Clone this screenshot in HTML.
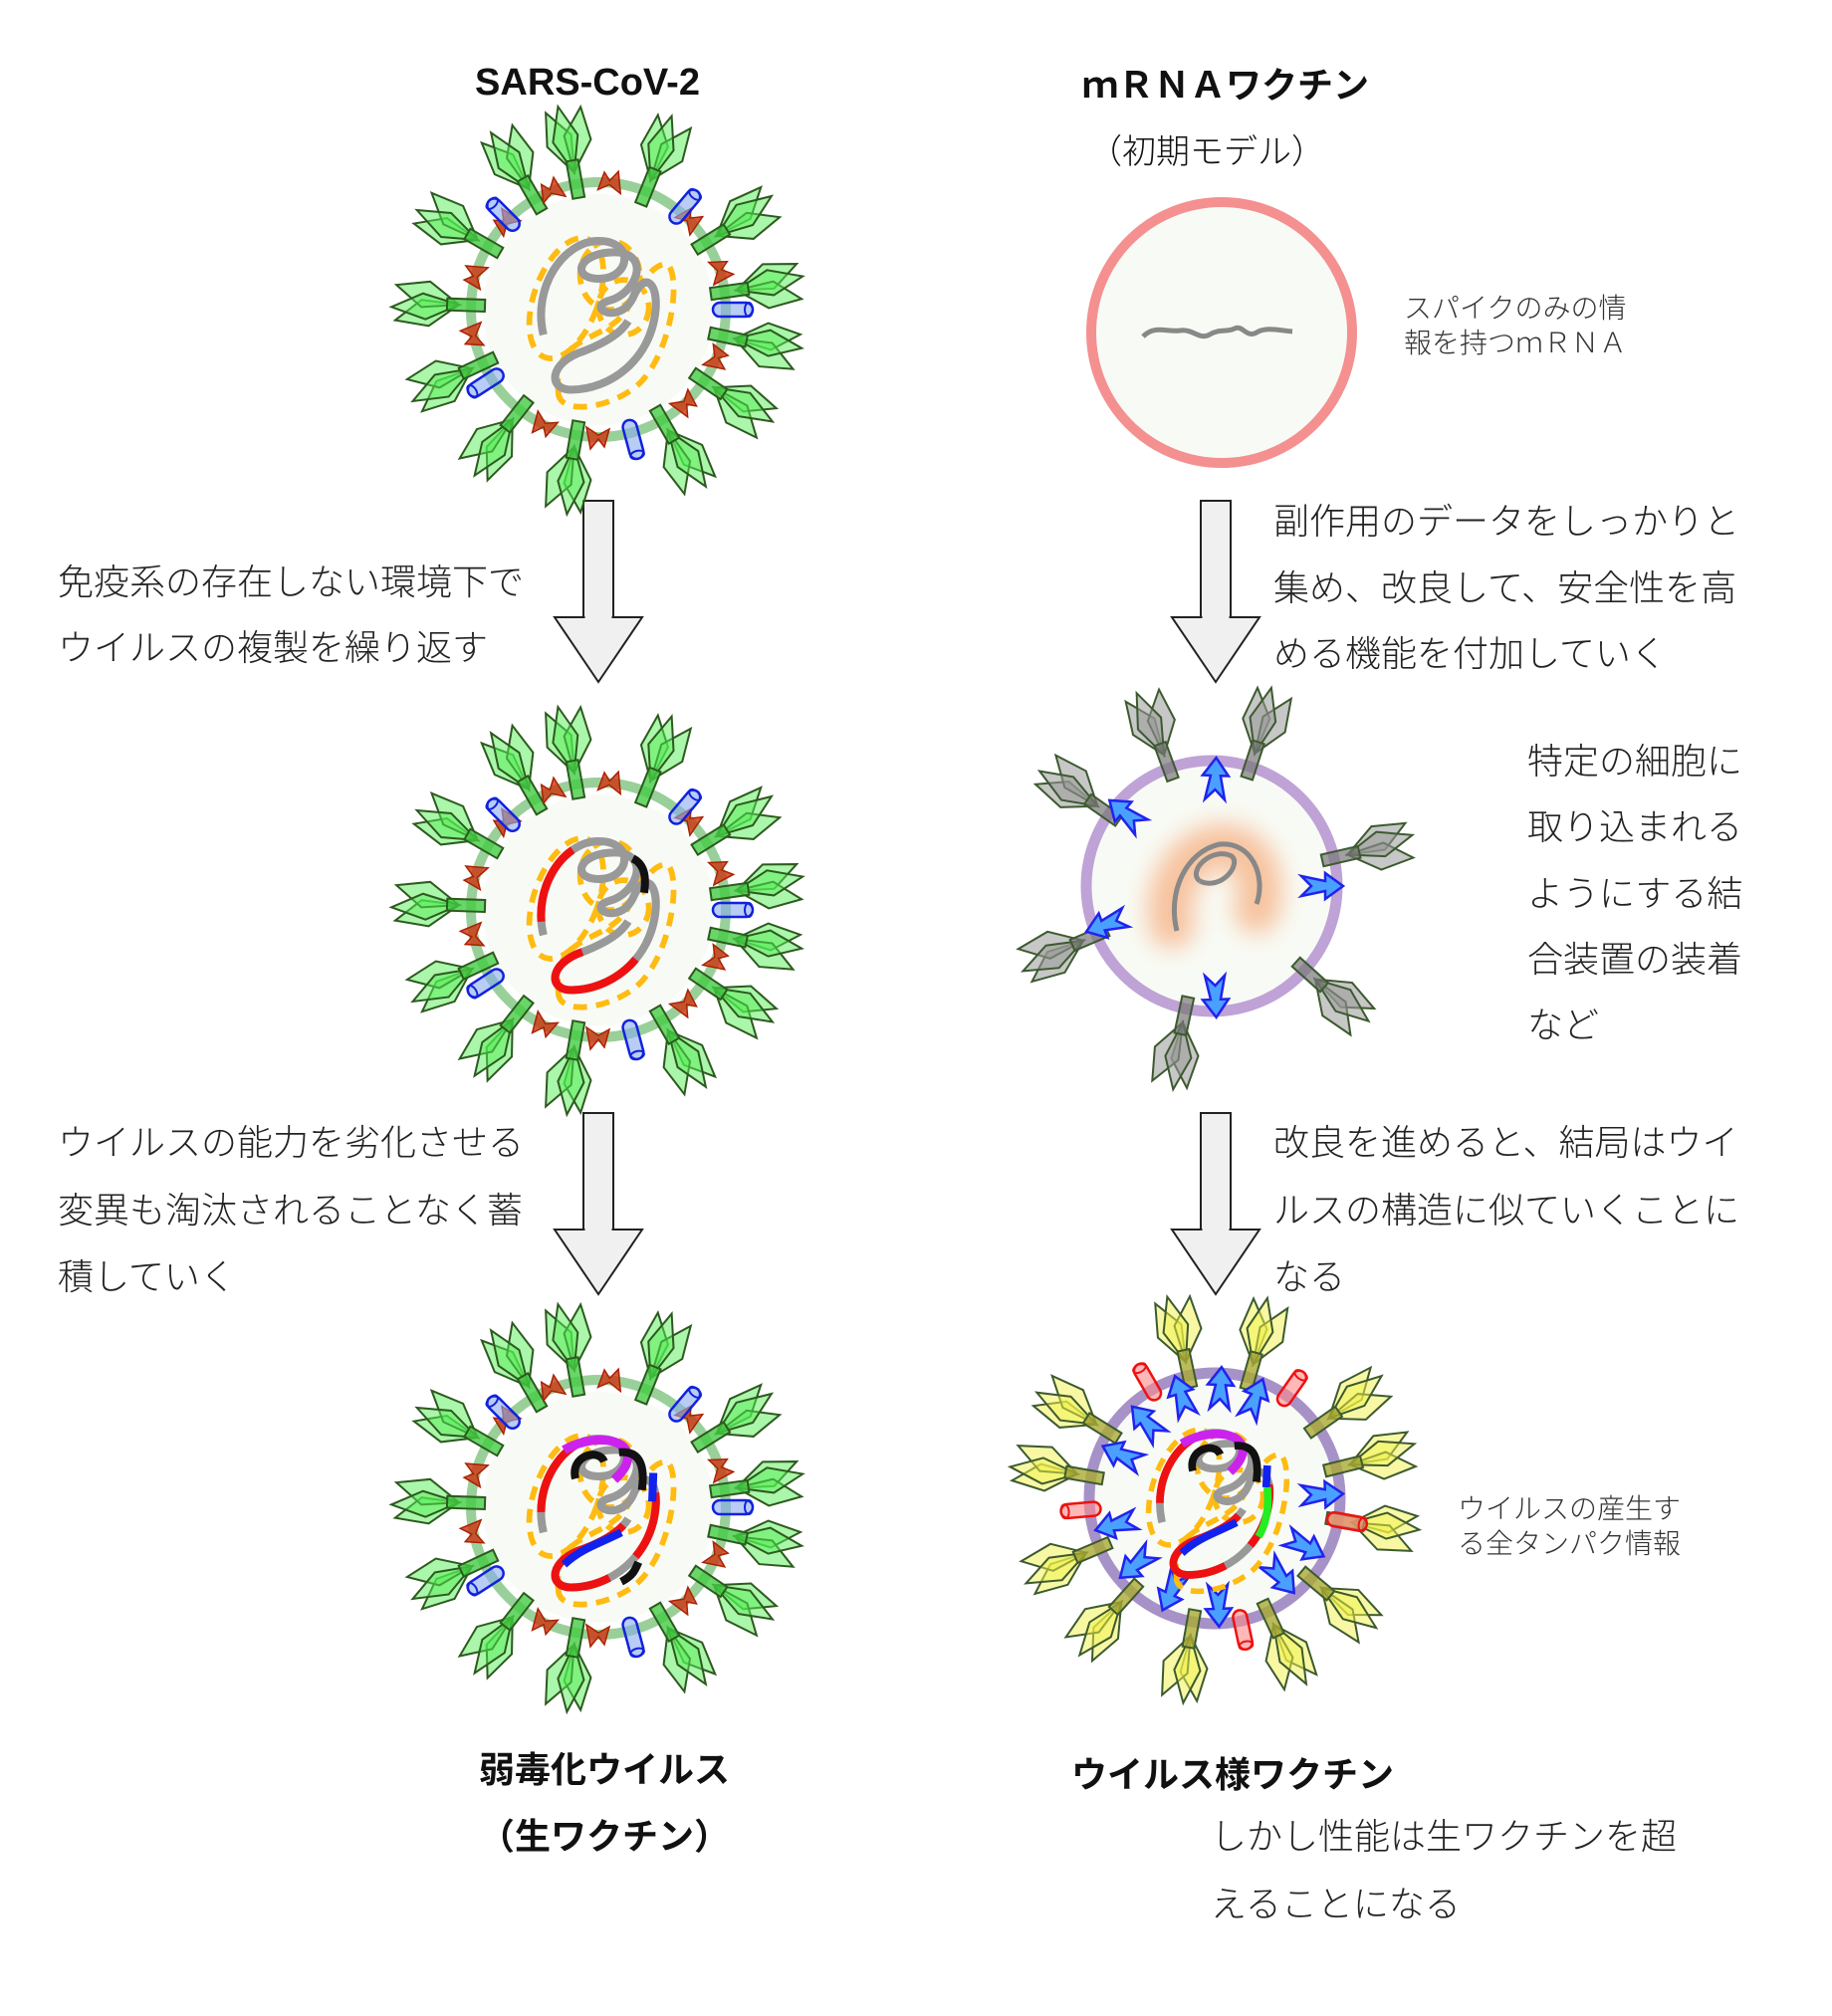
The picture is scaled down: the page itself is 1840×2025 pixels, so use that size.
<!DOCTYPE html>
<html><head><meta charset="utf-8"><style>
html,body{margin:0;padding:0;background:#fff;}
body{width:1840px;height:2025px;position:relative;overflow:hidden;font-family:"Liberation Sans","Noto Sans CJK JP",sans-serif;}
.t{position:absolute;font-size:36px;color:#222;white-space:nowrap;font-weight:300;line-height:1;}
.s{position:absolute;font-size:28px;color:#333;white-space:nowrap;font-weight:300;line-height:1;}
.b{position:absolute;font-size:36px;font-weight:bold;color:#111;white-space:nowrap;line-height:1;transform:translateX(-50%);}
svg{position:absolute;left:0;top:0;}
</style></head><body>
<svg width="1840" height="2025" viewBox="0 0 1840 2025">
<defs>
<filter id="blur" x="-100%" y="-100%" width="300%" height="300%"><feGaussianBlur stdDeviation="12"/></filter>
<g id="kites">
 <polygon points="0,-8 -15,-42 -3,-74 12,-44" transform="rotate(-13 0 -8)"/>
 <polygon points="0,-8 -12,-44 3,-74 15,-42" transform="rotate(13 0 -8)"/>
 <polygon points="0,-8 -14,-42 -1,-76 12,-44" transform="rotate(-3 0 -8)"/>
</g>
<g id="spG">
 <g fill="#55ee55" fill-opacity="0.5" stroke="#2d5a1f" stroke-width="2" transform="translate(0,-14)"><use href="#kites"/></g>
 <rect x="-6" y="-34" width="12" height="38" fill="#44cc44" fill-opacity="0.8" stroke="#2d5a1f" stroke-width="2"/>
</g>
<g id="spGr">
 <g fill="#999" fill-opacity="0.55" stroke="#3d5a2f" stroke-width="2" transform="translate(0,-14)"><use href="#kites"/></g>
 <rect x="-6" y="-34" width="12" height="38" fill="#777" fill-opacity="0.7" stroke="#3d5a2f" stroke-width="2"/>
</g>
<g id="spY">
 <g fill="#f2f24a" fill-opacity="0.5" stroke="#3d5a2f" stroke-width="2" transform="translate(0,-14)"><use href="#kites"/></g>
 <rect x="-6" y="-34" width="12" height="38" fill="#aaaa33" fill-opacity="0.8" stroke="#3d5a2f" stroke-width="2"/>
</g>
<polygon id="mtri" points="-11,6 -6,-12 0,-4 8,-14 12,8 0,0" fill="#cc3311" fill-opacity="0.8" stroke="#aa2200" stroke-width="1.5"/>
<g id="cylB"><rect x="-7" y="-20" width="14" height="40" rx="7" fill="#88aaee" fill-opacity="0.6" stroke="#1122dd" stroke-width="2.5"/><ellipse cx="0" cy="-16" rx="7" ry="4" fill="none" stroke="#1122dd" stroke-width="2"/></g>
<g id="cylR"><rect x="-7" y="-20" width="14" height="40" rx="7" fill="#ff8888" fill-opacity="0.6" stroke="#ee1111" stroke-width="2.5"/><ellipse cx="0" cy="-16" rx="7" ry="4" fill="none" stroke="#ee1111" stroke-width="2"/></g>
<polygon id="barr" points="0,-24 13,-6 5,-6 10,18 0,8 -10,18 -5,-6 -13,-6" fill="#4aa0ff" stroke="#2222ee" stroke-width="2.5"/>
<path id="gen" d="M -48,22 C -58,-20 -30,-60 0,-60 C 32,-60 28,-28 2,-27 C -26,-26 -18,-52 18,-50 C 46,-46 32,-14 10,-8 C -12,-2 18,14 30,-10 C 40,-34 52,-24 50,0 C 46,44 10,70 -24,70 C -44,70 -44,46 -12,36 C 8,28 20,20 26,10" fill="none"/>
<g id="gdash" fill="none" stroke="#ffbb11" stroke-width="5" stroke-dasharray="12 8">
 <ellipse cx="-28" cy="-10" rx="28" ry="55" transform="rotate(20 -28 -10)"/>
 <ellipse cx="10" cy="-30" rx="26" ry="30"/>
 <ellipse cx="22" cy="-2" rx="22" ry="24"/>
 <path d="M -35,72 C -40,20 5,30 25,0 C 40,-30 50,-40 60,-40 C 72,-30 65,30 40,60 C 20,85 -35,95 -35,72 Z"/>
</g>
<g id="virus">
 <circle r="116" fill="#f8fbf5"/>
 <circle r="128" fill="none" stroke="#7fc47f" stroke-opacity="0.8" stroke-width="10"/>
 <g transform="rotate(-10)"><use href="#spG" transform="translate(0,-118)"/></g>
 <g transform="rotate(22)"><use href="#spG" transform="translate(0,-118)"/></g>
 <g transform="rotate(58)"><use href="#spG" transform="translate(0,-118)"/></g>
 <g transform="rotate(82)"><use href="#spG" transform="translate(0,-118)"/></g>
 <g transform="rotate(102)"><use href="#spG" transform="translate(0,-118)"/></g>
 <g transform="rotate(124)"><use href="#spG" transform="translate(0,-118)"/></g>
 <g transform="rotate(150)"><use href="#spG" transform="translate(0,-118)"/></g>
 <g transform="rotate(190)"><use href="#spG" transform="translate(0,-118)"/></g>
 <g transform="rotate(218)"><use href="#spG" transform="translate(0,-118)"/></g>
 <g transform="rotate(245)"><use href="#spG" transform="translate(0,-118)"/></g>
 <g transform="rotate(272)"><use href="#spG" transform="translate(0,-118)"/></g>
 <g transform="rotate(300)"><use href="#spG" transform="translate(0,-118)"/></g>
 <g transform="rotate(330)"><use href="#spG" transform="translate(0,-118)"/></g>
 <g transform="rotate(5)"><use href="#mtri" transform="translate(0,-126)"/></g>
 <g transform="rotate(-22)"><use href="#mtri" transform="translate(0,-126)"/></g>
 <g transform="rotate(45)"><use href="#mtri" transform="translate(0,-126)"/></g>
 <g transform="rotate(72)"><use href="#mtri" transform="translate(0,-126)"/></g>
 <g transform="rotate(112)"><use href="#mtri" transform="translate(0,-126)"/></g>
 <g transform="rotate(137)"><use href="#mtri" transform="translate(0,-126)"/></g>
 <g transform="rotate(180)"><use href="#mtri" transform="translate(0,-126)"/></g>
 <g transform="rotate(205)"><use href="#mtri" transform="translate(0,-126)"/></g>
 <g transform="rotate(258)"><use href="#mtri" transform="translate(0,-126)"/></g>
 <g transform="rotate(285)"><use href="#mtri" transform="translate(0,-126)"/></g>
 <g transform="rotate(313)"><use href="#mtri" transform="translate(0,-126)"/></g>
 <g transform="rotate(-45)"><use href="#cylB" transform="translate(0,-135)"/></g>
 <g transform="rotate(40)"><use href="#cylB" transform="translate(0,-135)"/></g>
 <g transform="rotate(90)"><use href="#cylB" transform="translate(0,-135)"/></g>
 <g transform="rotate(165)"><use href="#cylB" transform="translate(0,-135)"/></g>
 <g transform="rotate(237)"><use href="#cylB" transform="translate(0,-135)"/></g>
 <g transform="scale(1.15)"><use href="#gdash"/></g>
</g>
<g id="garrow">
 <rect x="-15" y="0" width="30" height="118" fill="#f0f0f0" stroke="#222" stroke-width="2"/>
 <polygon points="-44,117 44,117 0,182" fill="#f0f0f0" stroke="#222" stroke-width="2"/>
 <rect x="-13.5" y="112" width="27" height="8" fill="#f0f0f0"/>
</g>
</defs>

<use href="#garrow" transform="translate(601,503)"/>
<use href="#garrow" transform="translate(601,1118)"/>
<use href="#garrow" transform="translate(1221,503)"/>
<use href="#garrow" transform="translate(1221,1118)"/>

<g transform="translate(601,311)">
 <use href="#virus"/>
 <g transform="scale(1.15)"><use href="#gen" stroke="#999" stroke-width="7"/></g>
</g>
<g transform="translate(601,914)">
 <use href="#virus"/>
 <g transform="scale(1.15)">
 <use href="#gen" stroke="#999" stroke-width="7"/>
 <path d="M -48,22 C -58,-20 -30,-60 0,-60 C 32,-60 28,-28 2,-27 C -26,-26 -18,-52 18,-50 C 46,-46 32,-14 10,-8 C -12,-2 18,14 30,-10 C 40,-34 52,-24 50,0 C 46,44 10,70 -24,70 C -44,70 -44,46 -12,36 C 8,28 20,20 26,10" pathLength="100" fill="none" stroke="#ee1111" stroke-width="7" stroke-dasharray="0 2 12 58 20 100"/>
 <path d="M 30,-45 C 40,-40 42,-30 40,-15" fill="none" stroke="#111" stroke-width="7"/>
 </g>
</g>
<g transform="translate(601,1514)">
 <use href="#virus"/>
 <g transform="scale(1.15)">
 <use href="#gen" stroke="#999" stroke-width="7"/>
 <path d="M -48,22 C -58,-20 -30,-60 0,-60 C 32,-60 28,-28 2,-27 C -26,-26 -18,-52 18,-50 C 46,-46 32,-14 10,-8 C -12,-2 18,14 30,-10 C 40,-34 52,-24 50,0 C 46,44 10,70 -24,70 C -44,70 -44,46 -12,36 C 8,28 20,20 26,10" pathLength="100" fill="none" stroke="#ee1111" stroke-width="7" stroke-dasharray="0 3 13 46 10 5 22 100"/>
 <path d="M -30,-50 C -10,-62 20,-62 25,-48 C 28,-38 20,-30 14,-24" fill="none" stroke="#cc22ee" stroke-width="8"/>
 <path d="M -20,-25 C -25,-45 0,-52 5,-40 M 18,-48 C 40,-50 40,-30 38,-15" fill="none" stroke="#111" stroke-width="7"/>
 <path d="M 48,-30 L 47,-5 M -30,50 C -15,36 0,32 20,22" fill="none" stroke="#1122ee" stroke-width="7"/>
 <path d="M 20,65 C 30,60 32,55 35,48" fill="none" stroke="#111" stroke-width="7"/>
 </g>
</g>

<circle cx="1227" cy="334" r="131" fill="#f8fbf5" stroke="#f49090" stroke-width="10"/>
<path d="M 1148,338 C 1160,326 1172,334 1185,332 C 1198,330 1205,342 1215,336 C 1225,330 1232,334 1240,330 C 1248,326 1252,340 1262,334 C 1272,328 1285,332 1298,333" fill="none" stroke="#888" stroke-width="5"/>

<g transform="translate(1217,890)">
 <circle r="126" fill="#f8fbf5" stroke="#bfa2d6" stroke-width="11"/>
 <path d="M -40,40 C -50,0 -20,-40 10,-40 C 40,-40 55,-10 45,25" fill="none" stroke="#f7b488" stroke-width="45" stroke-linecap="round" filter="url(#blur)" opacity="0.8"/>
 <path d="M -35,45 C -45,5 -25,-35 8,-42 C 40,-45 55,-10 45,18 M -12,-5 C -25,-15 0,-40 20,-30 C 30,-22 10,5 -12,-5" fill="none" stroke="#888" stroke-width="5"/>
 <g transform="rotate(-20)"><use href="#spGr" transform="translate(0,-118)"/></g>
 <g transform="rotate(18)"><use href="#spGr" transform="translate(0,-118)"/></g>
 <g transform="rotate(77)"><use href="#spGr" transform="translate(0,-118)"/></g>
 <g transform="rotate(132)"><use href="#spGr" transform="translate(0,-118)"/></g>
 <g transform="rotate(192)"><use href="#spGr" transform="translate(0,-118)"/></g>
 <g transform="rotate(247)"><use href="#spGr" transform="translate(0,-118)"/></g>
 <g transform="rotate(305)"><use href="#spGr" transform="translate(0,-118)"/></g>
 <g transform="rotate(2)"><use href="#barr" transform="translate(0,-105)"/></g>
 <g transform="rotate(90)"><use href="#barr" transform="translate(0,-108)"/></g>
 <g transform="rotate(178)"><use href="#barr" transform="translate(0,-108)"/></g>
 <g transform="rotate(250)"><use href="#barr" transform="translate(0,-110)"/></g>
 <g transform="rotate(310)"><use href="#barr" transform="translate(0,-110)"/></g>
</g>

<g transform="translate(1220,1505)">
 <circle r="126" fill="#f8fbf5" stroke="#a792c8" stroke-width="11"/>
 <g transform="rotate(-12)"><use href="#spY" transform="translate(0,-118)"/></g>
 <g transform="rotate(16)"><use href="#spY" transform="translate(0,-118)"/></g>
 <g transform="rotate(55)"><use href="#spY" transform="translate(0,-118)"/></g>
 <g transform="rotate(76)"><use href="#spY" transform="translate(0,-118)"/></g>
 <g transform="rotate(100)"><use href="#spY" transform="translate(0,-118)"/></g>
 <g transform="rotate(130)"><use href="#spY" transform="translate(0,-118)"/></g>
 <g transform="rotate(155)"><use href="#spY" transform="translate(0,-118)"/></g>
 <g transform="rotate(190)"><use href="#spY" transform="translate(0,-118)"/></g>
 <g transform="rotate(222)"><use href="#spY" transform="translate(0,-118)"/></g>
 <g transform="rotate(247)"><use href="#spY" transform="translate(0,-118)"/></g>
 <g transform="rotate(280)"><use href="#spY" transform="translate(0,-118)"/></g>
 <g transform="rotate(302)"><use href="#spY" transform="translate(0,-118)"/></g>
 <g transform="rotate(-30)"><use href="#cylR" transform="translate(0,-135)"/></g>
 <g transform="rotate(35)"><use href="#cylR" transform="translate(0,-135)"/></g>
 <g transform="rotate(100)"><use href="#cylR" transform="translate(0,-135)"/></g>
 <g transform="rotate(168)"><use href="#cylR" transform="translate(0,-135)"/></g>
 <g transform="rotate(265)"><use href="#cylR" transform="translate(0,-135)"/></g>
 <g transform="rotate(3)"><use href="#barr" transform="translate(0,-108)"/></g>
 <g transform="rotate(-18)"><use href="#barr" transform="translate(0,-105)"/></g>
 <g transform="rotate(22)"><use href="#barr" transform="translate(0,-105)"/></g>
 <g transform="rotate(-42)"><use href="#barr" transform="translate(0,-100)"/></g>
 <g transform="rotate(-65)"><use href="#barr" transform="translate(0,-100)"/></g>
 <g transform="rotate(-105)"><use href="#barr" transform="translate(0,-100)"/></g>
 <g transform="rotate(-130)"><use href="#barr" transform="translate(0,-100)"/></g>
 <g transform="rotate(-155)"><use href="#barr" transform="translate(0,-100)"/></g>
 <g transform="rotate(178)"><use href="#barr" transform="translate(0,-105)"/></g>
 <g transform="rotate(140)"><use href="#barr" transform="translate(0,-100)"/></g>
 <g transform="rotate(118)"><use href="#barr" transform="translate(0,-100)"/></g>
 <g transform="rotate(88)"><use href="#barr" transform="translate(0,-105)"/></g>
 <g transform="scale(1.1)">
 <use href="#gdash"/>
 <use href="#gen" stroke="#999" stroke-width="7"/>
 <path d="M -48,22 C -58,-20 -30,-60 0,-60 C 32,-60 28,-28 2,-27 C -26,-26 -18,-52 18,-50 C 46,-46 32,-14 10,-8 C -12,-2 18,14 30,-10 C 40,-34 52,-24 50,0 C 46,44 10,70 -24,70 C -44,70 -44,46 -12,36 C 8,28 20,20 26,10" pathLength="100" fill="none" stroke="#ee1111" stroke-width="7" stroke-dasharray="0 3 13 46 10 5 22 100"/>
 <path d="M -30,-50 C -10,-62 20,-62 25,-48 C 28,-38 20,-30 14,-24" fill="none" stroke="#cc22ee" stroke-width="8"/>
 <path d="M -20,-25 C -25,-45 0,-52 5,-40 M 18,-48 C 40,-50 40,-30 38,-15" fill="none" stroke="#111" stroke-width="7"/>
 <path d="M 48,-30 L 47,-10 M -30,50 C -15,36 0,32 20,22" fill="none" stroke="#1122ee" stroke-width="7"/>
 <path d="M 48,-10 C 50,10 46,25 40,35" fill="none" stroke="#22ee22" stroke-width="7"/>
 </g>
</g>
</svg>

<div class="b" style="left:590px;top:64px;font-size:38px;">SARS-CoV-2</div>
<div class="b" style="left:1231px;top:68px;">ｍＲＮＡワクチン</div>
<div class="b" style="left:1212px;top:136px;font-weight:300;font-size:34px;">（初期モデル）</div>

<div class="s" style="left:1410px;top:296px;">スパイクのみの情</div>
<div class="s" style="left:1410px;top:331px;">報を持つｍＲＮＡ</div>

<div class="t" style="left:58px;top:567px;">免疫系の存在しない環境下で</div>
<div class="t" style="left:58px;top:633px;">ウイルスの複製を繰り返す</div>

<div class="t" style="left:1279px;top:506px;">副作用のデータをしっかりと</div>
<div class="t" style="left:1279px;top:573px;">集め、改良して、安全性を高</div>
<div class="t" style="left:1279px;top:639px;">める機能を付加していく</div>

<div class="t" style="left:1534px;top:747px;">特定の細胞に</div>
<div class="t" style="left:1534px;top:813px;">取り込まれる</div>
<div class="t" style="left:1534px;top:880px;">ようにする結</div>
<div class="t" style="left:1534px;top:946px;">合装置の装着</div>
<div class="t" style="left:1534px;top:1012px;">など</div>

<div class="t" style="left:58px;top:1130px;">ウイルスの能力を劣化させる</div>
<div class="t" style="left:58px;top:1198px;">変異も淘汰されることなく蓄</div>
<div class="t" style="left:58px;top:1265px;">積していく</div>

<div class="t" style="left:1279px;top:1130px;">改良を進めると、結局はウイ</div>
<div class="t" style="left:1279px;top:1198px;">ルスの構造に似ていくことに</div>
<div class="t" style="left:1279px;top:1265px;">なる</div>

<div class="s" style="left:1464px;top:1502px;">ウイルスの産生す</div>
<div class="s" style="left:1464px;top:1537px;">る全タンパク情報</div>

<div class="b" style="left:607px;top:1760px;">弱毒化ウイルス</div>
<div class="b" style="left:607px;top:1827px;">（生ワクチン）</div>
<div class="b" style="left:1238px;top:1765px;">ウイルス様ワクチン</div>
<div class="t" style="left:1216px;top:1827px;">しかし性能は生ワクチンを超</div>
<div class="t" style="left:1216px;top:1895px;">えることになる</div>
</body></html>
